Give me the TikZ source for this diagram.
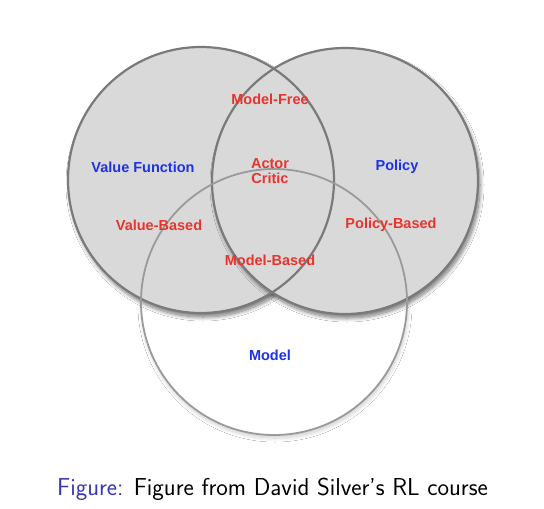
\documentclass[tikz,border=0pt]{standalone}
\usepackage{fontspec}
\setmainfont{Liberation Sans}
\usetikzlibrary{shadows.blur}
\definecolor{setgray}{HTML}{D9D9D9}
\definecolor{ringdark}{HTML}{7A7A7A}
\definecolor{ringlight}{HTML}{9A9A9A}
\definecolor{lblred}{HTML}{E8342C}
\definecolor{lblblue}{HTML}{1C34E4}
\definecolor{structblue}{HTML}{3838B0}
\newcommand{\diam}{266pt}

\begin{document}
\begin{tikzpicture}[x=1pt, y=-1pt,
    setfill/.style={circle, minimum size=\diam, inner sep=0pt},
    ring/.style={circle, minimum size=\diam, inner sep=0pt, draw, line width=2.2pt},
    lbl/.style={font=\fontsize{14.5}{16}\selectfont\bfseries, inner sep=0pt}]

    \useasboundingbox[fill=white] (0,0) rectangle (544,509);

    % fills
    \node[setfill, fill=white, blur shadow={shadow xshift=1pt, shadow yshift=-3pt, shadow opacity=20, shadow blur radius=4pt, shadow blur steps=12}] (model) at (274,302) {};
    \node[setfill, fill=setgray, blur shadow={shadow xshift=2pt, shadow yshift=-4pt, shadow opacity=55, shadow blur radius=4pt, shadow blur steps=12}] (value) at (201,180) {};
    \node[setfill, fill=setgray, blur shadow={shadow xshift=2pt, shadow yshift=-4pt, shadow opacity=55, shadow blur radius=4pt, shadow blur steps=12}] (policy) at (345,181) {};

    % outlines
    \node[ring, draw=ringdark] (valueRing) at (value) {};
    \node[ring, draw=ringdark] (policyRing) at (policy) {};
    \node[ring, draw=ringlight, line width=1.8pt] (modelRing) at (model) {};

    % labels
    \node[lbl, text=lblblue] (valueFn) at (143,167) {Value Function};
    \node[lbl, text=lblblue] (policyLbl) at (397,167) {Policy};
    \node[lbl, text=lblblue] (modelLbl) at (270,355) {Model};

    \node[lbl, text=lblred] (modelFree) at (270,99) {Model-Free};
    \node[lbl, text=lblred, align=center] (actorCritic) at (270,171) {Actor\\[-1pt]Critic};
    \node[lbl, text=lblred] (valueBased) at (159,225) {Value-Based};
    \node[lbl, text=lblred] (policyBased) at (391,225) {Policy-Based};
    \node[lbl, text=lblred] (modelBased) at (270,260) {Model-Based};

    \node[anchor=base west, inner sep=0pt, font=\fontsize{24.5}{29}\sffamily] (caption) at (57,495)
        {\textcolor{structblue}{Figure:} Figure from David Silver's RL course};
\end{tikzpicture}
\end{document}
